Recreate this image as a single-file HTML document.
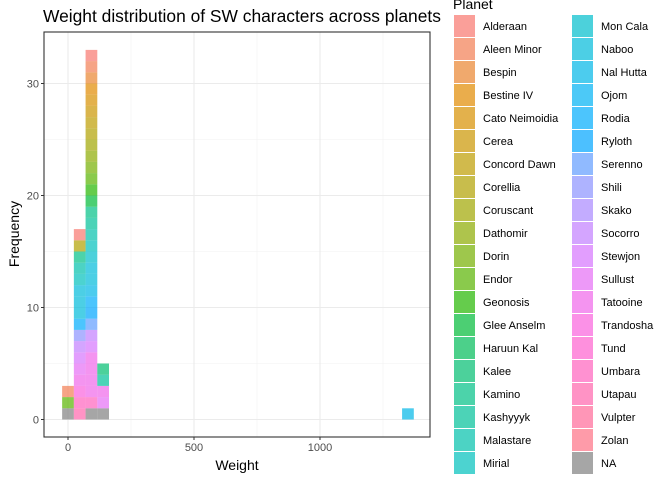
<!DOCTYPE html>
<html><head><meta charset="utf-8"><style>
body{margin:0;background:#fff;font-family:"Liberation Sans",Arial,sans-serif;}
svg text{font-family:"Liberation Sans",Arial,sans-serif;}
</style></head><body>
<svg id="c" width="672" height="480" xmlns="http://www.w3.org/2000/svg"></svg>
<script>
const planets=["Alderaan","Aleen Minor","Bespin","Bestine IV","Cato Neimoidia","Cerea","Concord Dawn","Corellia","Coruscant","Dathomir","Dorin","Endor","Geonosis","Glee Anselm","Haruun Kal","Kalee","Kamino","Kashyyyk","Malastare","Mirial","Mon Cala","Naboo","Nal Hutta","Ojom","Rodia","Ryloth","Serenno","Shili","Skako","Socorro","Stewjon","Sullust","Tatooine","Trandosha","Tund","Umbara","Utapau","Vulpter","Zolan","NA"];
const binCenters=[0,46.5,93,139.5,1349];
const bin0=["NA","Endor","Aleen Minor"];
const bin1=["Utapau","Umbara","Trandosha","Tatooine","Sullust","Stewjon","Socorro","Shili","Rodia","Naboo","Naboo","Naboo","Mirial","Malastare","Kamino","Corellia","Alderaan"];
const bin2=["NA","Umbara","Tatooine","Tatooine","Tatooine","Tatooine","Stewjon","Socorro","Serenno","Ryloth","Rodia","Nal Hutta","Naboo","Naboo","Mon Cala","Mirial","Malastare","Kashyyyk","Kamino","Glee Anselm","Geonosis","Endor","Dorin","Dathomir","Coruscant","Corellia","Concord Dawn","Cerea","Cato Neimoidia","Bestine IV","Bespin","Aleen Minor","Alderaan"];
const bin3=["NA","Sullust","Tatooine","Kashyyyk","Kalee"];
const bin4=["Nal Hutta"];
const bins=[bin0,bin1,bin2,bin3,bin4];
const binWidth=46.5;
const xTicks=[0,500,1000], xMinor=[250,750,1250];
const yTicks=[0,10,20,30], yMinor=[5,15,25,35];

function hcl(h,c,l){const hr=h*Math.PI/180,u=c*Math.cos(hr),v=c*Math.sin(hr);
const Xn=95.047,Yn=100,Zn=108.883;const Y=Yn*Math.pow((l+16)/116,3);
const un=4*Xn/(Xn+15*Yn+3*Zn),vn=9*Yn/(Xn+15*Yn+3*Zn);
const up=u/(13*l)+un,vp=v/(13*l)+vn;const X=Y*9*up/(4*vp),Z=Y*(12-3*up-20*vp)/(4*vp);
const x=X/100,y=Y/100,z=Z/100;
let r=3.2406*x-1.5372*y-0.4986*z,g=-0.9689*x+1.8758*y+0.0415*z,b=0.0557*x-0.2040*y+1.0570*z;
const gm=t=>{t=Math.max(0,Math.min(1,t));return Math.round(255*(t<=0.0031308?12.92*t:1.055*Math.pow(t,1/2.4)-0.055));};
return `rgb(${gm(r)},${gm(g)},${gm(b)})`;}
const n=planets.length-1;
function col(p){const i=planets.indexOf(p);if(p==="NA")return "rgb(128,128,128)";return hcl(15+i*360/n,100,65);}

const svg=document.getElementById('c');const NS="http://www.w3.org/2000/svg";
function el(t,a,parent){const e=document.createElementNS(NS,t);for(const k in a)e.setAttribute(k,a[k]);(parent||svg).appendChild(e);return e;}
const L=44,R=430,T=32,B=437;
const xs=v=>68+v*0.252, ys=v=>419.5-v*11.2;
el('rect',{x:L,y:T,width:R-L,height:B-T,fill:'#fff'});
xMinor.forEach(v=>{const e=el('line',{x1:xs(v),x2:xs(v),y1:T,y2:B,stroke:'#f2f2f2','stroke-width':0.6});});
yMinor.forEach(v=>{if(ys(v)<T)return;const e=el('line',{x1:L,x2:R,y1:ys(v),y2:ys(v),stroke:'#f2f2f2','stroke-width':0.6});});
xTicks.forEach(v=>{const e=el('line',{x1:xs(v),x2:xs(v),y1:T,y2:B,stroke:'#ebebeb','stroke-width':1.1});});
yTicks.forEach(v=>{const e=el('line',{x1:L,x2:R,y1:ys(v),y2:ys(v),stroke:'#ebebeb','stroke-width':1.1});});
bins.forEach((bin,bi)=>{const x0=xs(binCenters[bi]-binWidth/2),x1=xs(binCenters[bi]+binWidth/2);
bin.forEach((p,k)=>{const r=el('rect',{x:x0,y:ys(k+1),width:x1-x0,height:ys(k)-ys(k+1),fill:col(p),'fill-opacity':0.7});

});});
el('rect',{x:L,y:T,width:R-L,height:B-T,fill:'none',stroke:'#333','stroke-width':1.1,});
xTicks.forEach(v=>{el('line',{x1:xs(v),x2:xs(v),y1:B,y2:B+3,stroke:'#333'});const t=el('text',{x:xs(v),y:451,'text-anchor':'middle','font-size':11,fill:'#4d4d4d'});t.textContent=v;});
yTicks.forEach(v=>{el('line',{x1:L-3,x2:L,y1:ys(v),y2:ys(v),stroke:'#333'});const t=el('text',{x:L-5,y:ys(v)+4,'text-anchor':'end','font-size':11,fill:'#4d4d4d'});t.textContent=v;});
const tt=el('text',{x:43,y:22,'font-size':17.4,fill:'#000',});tt.textContent="Weight distribution of SW characters across planets";
const xt=el('text',{x:237,y:470,'text-anchor':'middle','font-size':14,});xt.textContent="Weight";
const yt=el('text',{x:0,y:0,'text-anchor':'middle','font-size':14,transform:'translate(19,234) rotate(-90)',});yt.textContent="Frequency";
const lt=el('text',{x:453,y:9,'font-size':14,});lt.textContent="Planet";
planets.forEach((p,i)=>{const c=Math.floor(i/20),r=i%20;const kx=c?572:454,ky=15+r*23;
const g=el('g',{});
el('rect',{x:kx,y:ky,width:21,height:22,fill:col(p),'fill-opacity':0.7},g);
const t=el('text',{x:kx+29,y:ky+15,'font-size':11,fill:'#000'},g);t.textContent=p;});
</script>
</body></html>
